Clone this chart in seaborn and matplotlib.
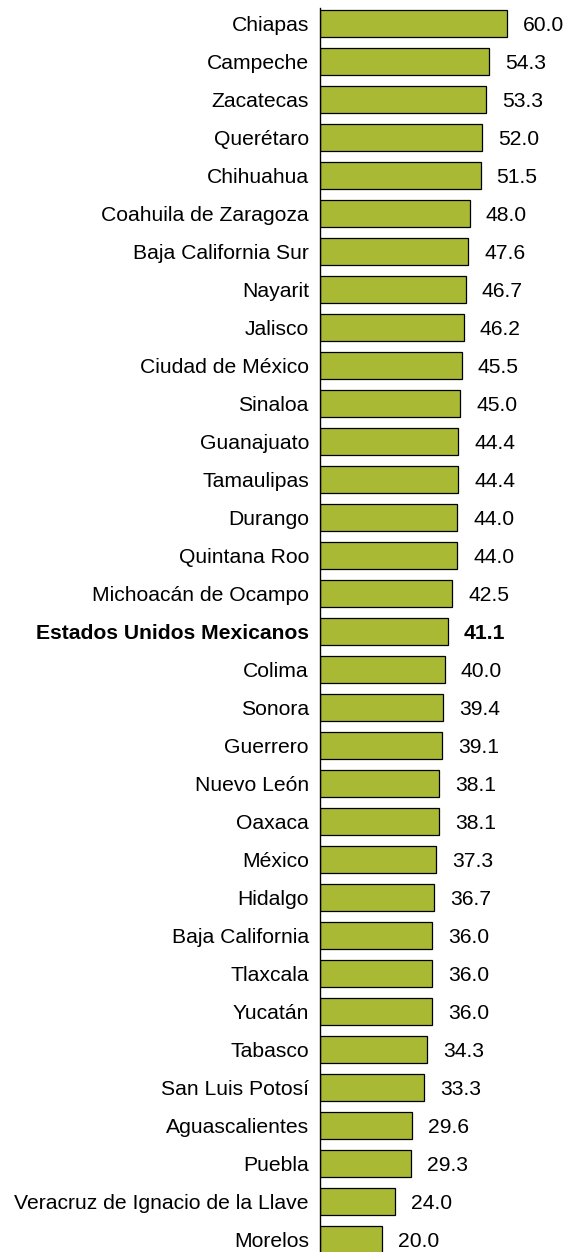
import matplotlib
matplotlib.use("Agg")
import matplotlib.pyplot as plt
import seaborn as sns
import pandas as pd

states = ["Chiapas", "Campeche", "Zacatecas", "Querétaro", "Chihuahua",
          "Coahuila de Zaragoza", "Baja California Sur", "Nayarit", "Jalisco",
          "Ciudad de México", "Sinaloa", "Guanajuato", "Tamaulipas", "Durango",
          "Quintana Roo", "Michoacán de Ocampo", "Estados Unidos Mexicanos",
          "Colima", "Sonora", "Guerrero", "Nuevo León", "Oaxaca", "México",
          "Hidalgo", "Baja California", "Tlaxcala", "Yucatán", "Tabasco",
          "San Luis Potosí", "Aguascalientes", "Puebla",
          "Veracruz de Ignacio de la Llave", "Morelos"]
values = [60.0, 54.3, 53.3, 52.0, 51.5, 48.0, 47.6, 46.7, 46.2, 45.5, 45.0,
          44.4, 44.4, 44.0, 44.0, 42.5, 41.1, 40.0, 39.4, 39.1, 38.1, 38.1,
          37.3, 36.7, 36.0, 36.0, 36.0, 34.3, 33.3, 29.6, 29.3, 24.0, 20.0]
highlight = "Estados Unidos Mexicanos"

df = pd.DataFrame({"state": states, "value": values})

sns.set_style("white")
plt.rcParams["font.family"] = ["Liberation Sans", "DejaVu Sans"]
plt.rcParams["text.color"] = "black"
plt.rcParams["ytick.color"] = "black"

W, H = 564, 1252
FS = 15.2
fig = plt.figure(figsize=(W / 100, H / 100), dpi=100)
ax = fig.add_axes([320 / W, 0, (W - 320) / W, 1244 / H])

sns.barplot(data=df, y="state", x="value", orient="h", color="#a9b934",
            saturation=1, width=0.71, edgecolor="black", linewidth=0.9, ax=ax)

ax.set_xlim(0, (W - 320) / (187 / 60))
ax.set_ylim(32.34, -0.408)
ax.set_xlabel("")
ax.set_ylabel("")
ax.set_xticks([])
for s in ["top", "right", "bottom"]:
    ax.spines[s].set_visible(False)
ax.spines["left"].set_color("black")
ax.spines["left"].set_linewidth(1.0)
ax.tick_params(axis="y", length=0, pad=8, labelsize=FS, labelcolor="black")

for lab in ax.get_yticklabels():
    if lab.get_text() == highlight:
        lab.set_fontweight("bold")

for i, (st, v) in enumerate(zip(states, values)):
    ax.annotate(f"{v:.1f}", xy=(v, i), xytext=(11.5, -1.5), textcoords="offset points",
                va="center", ha="left", fontsize=FS, color="black",
                fontweight="bold" if st == highlight else "normal")

fig.savefig("out.png", dpi=100)
